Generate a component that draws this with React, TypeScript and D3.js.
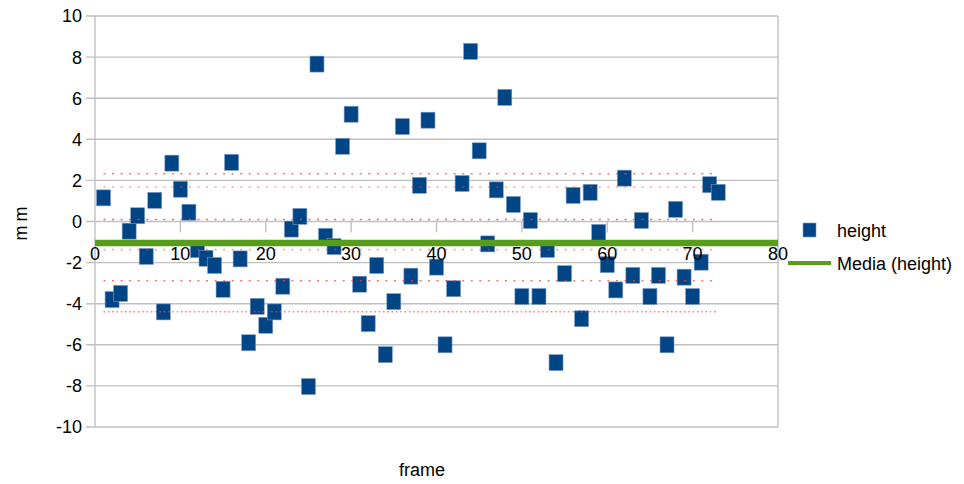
import React from "react";
import * as d3 from "d3";

// height per frame (mm), frames 1..73
const heightValues = [
  1.15, -3.8, -3.5, -0.47, 0.28, -1.7, 1.03, -4.4, 2.84, 1.57,
  0.45, -1.37, -1.79, -2.14, -3.3, 2.88, -1.82, -5.9, -4.13, -5.05,
  -4.4, -3.15, -0.37, 0.25, -8.03, 7.66, -0.72, -1.22, 3.66, 5.22,
  -3.05, -4.97, -2.14, -6.48, -3.9, 4.62, -2.66, 1.76, 4.93, -2.22,
  -6.0, -3.27, 1.85, 8.28, 3.44, -1.09, 1.54, 6.04, 0.83, -3.65,
  0.05, -3.65, -1.36, -6.87, -2.54, 1.27, -4.73, 1.42, -0.53, -2.1,
  -3.33, 2.11, -2.62, 0.05, -3.65, -2.62, -6.0, 0.59, -2.71, -3.65,
  -1.98, 1.79, 1.42,
];

// reference levels drawn as dotted lines
const bandLevels = [2.32, 1.68, 0.1, -1.37, -2.88, -4.39];
const bandRange = [1, 73];

const xTicks = [0, 10, 20, 30, 40, 50, 60, 70, 80];
const yTicks = [-10, -8, -6, -4, -2, 0, 2, 4, 6, 8, 10];
const xDomain = [0, 80];
const yDomain = [-10, 10];

const seriesName = "height";
const meanName = "Media (height)";
const xTitle = "frame";
const yTitle = "mm";

const W = 964;
const H = 484;
const FONT = "'Liberation Sans', Arial, sans-serif";
const BLUE = "#004586";
const GREEN = "#579d1c";
const GRID = "#c0c0c0";

export default function App() {
  const x = d3.scaleLinear().domain(xDomain).range([95, 778]);
  const y = d3.scaleLinear().domain(yDomain).range([427, 16]);
  const points = heightValues.map((v, i) => ({ frame: i + 1, v }));
  const mean = d3.mean(heightValues) as number;
  const mw = 14;
  const mh = 16;
  const bandStyles = [
    { dash: "2,6.54", op: 0.75 },
    { dash: "2,6.54", op: 0.5 },
    { dash: "2,6.54", op: 0.8 },
    { dash: "2,6.54", op: 0.5 },
    { dash: "2,6.54", op: 0.75 },
    { dash: "1.5,2.8", op: 0.7 },
  ];

  return (
    <svg
      width={W}
      height={H}
      style={{ position: "absolute", left: 0, top: 0, background: "#fff" }}
      fontFamily={FONT}
    >
      {/* horizontal grid with left tick stubs */}
      {yTicks.map((t) => (
        <line
          key={"g" + t}
          x1={86}
          x2={x(80)}
          y1={y(t)}
          y2={y(t)}
          stroke={GRID}
          strokeWidth={1.4}
        />
      ))}
      {/* plot frame */}
      <line x1={x(0)} x2={x(0)} y1={y(10)} y2={y(-10)} stroke={GRID} strokeWidth={1.4} />
      <line x1={x(80)} x2={x(80)} y1={y(10)} y2={y(-10)} stroke={GRID} strokeWidth={1.4} />
      {/* x axis ticks at y = 0 */}
      {xTicks
        .filter((t) => t > 0 && t < 80)
        .map((t) => (
          <line
            key={"xt" + t}
            x1={x(t)}
            x2={x(t)}
            y1={y(0)}
            y2={y(0) + 11}
            stroke={GRID}
            strokeWidth={1.4}
          />
        ))}

      {/* data markers */}
      {points.map((p) => (
        <rect
          key={"p" + p.frame}
          x={x(p.frame) - mw / 2}
          y={y(p.v) - mh / 2}
          width={mw}
          height={mh}
          fill={BLUE}
          stroke="#7f9cc4"
          strokeWidth={0.6}
        />
      ))}

      {/* mean line */}
      <line
        x1={x(0)}
        x2={x(80)}
        y1={y(mean)}
        y2={y(mean)}
        stroke={GREEN}
        strokeWidth={6.5}
      />

      {/* dotted reference levels */}
      {bandLevels.map((lv, i) => (
        <line
          key={"b" + i}
          x1={x(bandRange[0])}
          x2={x(bandRange[1])}
          y1={y(lv)}
          y2={y(lv)}
          stroke="#ff4040"
          strokeOpacity={bandStyles[i].op}
          strokeWidth={1.6}
          strokeDasharray={bandStyles[i].dash}
        />
      ))}

      {/* y tick labels */}
      {yTicks.map((t) => (
        <text
          key={"yl" + t}
          x={82}
          y={y(t)}
          dy="0.36em"
          textAnchor="end"
          fontSize={18}
          fill="#000"
        >
          {t}
        </text>
      ))}
      {/* x tick labels */}
      {xTicks.map((t) => (
        <text
          key={"xl" + t}
          x={x(t)}
          y={260}
          textAnchor="middle"
          fontSize={18}
          fill="#000"
        >
          {t}
        </text>
      ))}

      {/* axis titles */}
      <text x={422} y={476} textAnchor="middle" fontSize={18} fill="#000">
        {xTitle}
      </text>
      <text
        transform={`translate(27, ${y(0)}) rotate(-90)`}
        textAnchor="middle"
        fontSize={18}
        letterSpacing={4}
        fill="#000"
      >
        {yTitle}
      </text>

      {/* legend */}
      <rect x={803} y={223} width={13} height={14} fill={BLUE} stroke="#7f9cc4" strokeWidth={0.6} />
      <text x={837} y={237} fontSize={18} fill="#000">
        {seriesName}
      </text>
      <line x1={788} x2={831} y1={263} y2={263} stroke={GREEN} strokeWidth={4} />
      <text x={837} y={270} fontSize={18} fill="#000">
        {meanName}
      </text>
    </svg>
  );
}
